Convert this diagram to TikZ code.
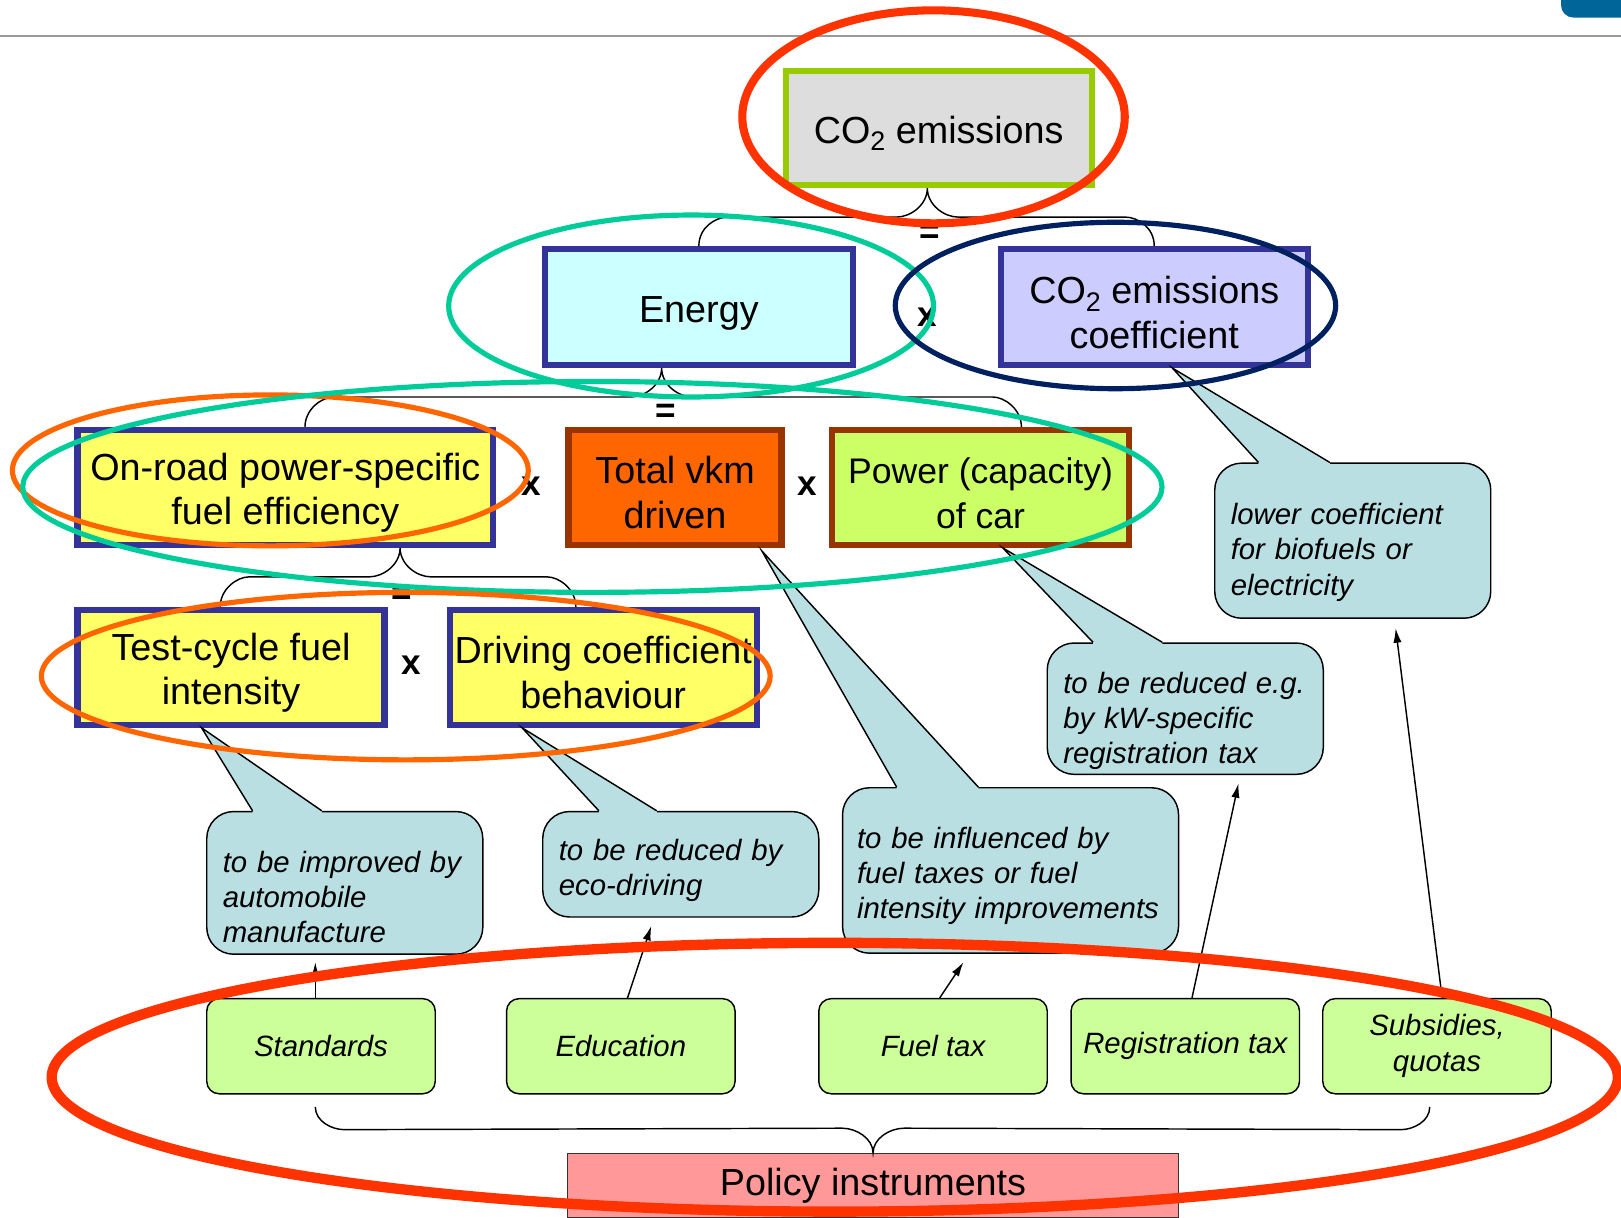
\documentclass[tikz,border=0pt]{standalone}
\usepackage{fontspec}
\setmainfont{Liberation Sans}
\usetikzlibrary{arrows.meta,calc}
\definecolor{coboxgray}{HTML}{DDDDDD}
\definecolor{coboxgreen}{HTML}{99CC00}
\definecolor{boxnavy}{HTML}{333399}
\definecolor{energycyan}{HTML}{CCFFFF}
\definecolor{coeflilac}{HTML}{CCCCFF}
\definecolor{effyellow}{HTML}{FFFF66}
\definecolor{vkmorange}{HTML}{FF6600}
\definecolor{boxbrown}{HTML}{993300}
\definecolor{powerlime}{HTML}{CCFF66}
\definecolor{noteblue}{HTML}{B9DFE3}
\definecolor{instrgreen}{HTML}{CCFF99}
\definecolor{policyrose}{HTML}{FF9999}
\definecolor{ringred}{HTML}{FF3300}
\definecolor{ringteal}{HTML}{00CC99}
\definecolor{ringnavy}{HTML}{002060}
\definecolor{ringorange}{HTML}{FF6600}
\definecolor{cornerblue}{HTML}{00669A}
\newcommand{\cotwo}{CO\raisebox{-0.38ex}{\fontsize{13pt}{13pt}\selectfont 2}}
\newcommand{\boxstrut}{\rule{0pt}{18.3pt}}

\begin{document}
\begin{tikzpicture}[x=0.5pt,y=-0.5pt,
  box/.style={draw=boxnavy,line width=3pt,inner sep=0pt,align=center,font=\fontsize{18.25pt}{21.5pt}\selectfont},
  note/.style={draw=black,line width=0.7pt,fill=noteblue,rounded corners=13pt,inner ysep=0pt,inner xsep=7.75pt,minimum width=133.5pt,text width=118pt,align=left,font=\fontsize{14.2pt}{17pt}\selectfont\itshape},
  instr/.style={draw=black,line width=0.7pt,fill=instrgreen,rounded corners=6pt,inner sep=0pt,minimum width=110.5pt,minimum height=46pt,align=center,font=\fontsize{14.2pt}{17.5pt}\selectfont\itshape},
  op/.style={inner sep=0pt,font=\fontsize{17pt}{17pt}\selectfont\bfseries},
  pointer/.style={line width=0.7pt},
  lever/.style={line width=0.7pt,-{Latex[length=7pt,width=4pt]}},
  brace/.style={line width=0.7pt},
  ring/.style={line width=2.5pt}]
\useasboundingbox (0,0) rectangle (1568,1178);
\fill[white] (0,0) rectangle (1568,1178);
\clip (0,0) rectangle (1568,1178);

\fill[cornerblue,rounded corners=6pt] (1510,-20) rectangle (1600,17);
\draw[line width=1pt,black!40] (0,35) -- (1568,35);

\node[box,draw=coboxgreen,fill=coboxgray,minimum width=148pt,minimum height=55pt] (co2) at (908,124) {\boxstrut\cotwo{} emissions};
\node[box,fill=energycyan,minimum width=149pt,minimum height=56pt] (en) at (676,297) {\boxstrut Energy};
\node[box,fill=coeflilac,minimum width=148.5pt,minimum height=56pt] (cf) at (1116.5,297) {\boxstrut\cotwo{} emissions\\coefficient};
\node[box,fill=effyellow,minimum width=201pt,minimum height=55.5pt] (onr) at (276,471.5) {\boxstrut On-road power-specific\\fuel efficiency};
\node[box,draw=boxbrown,fill=vkmorange,minimum width=103pt,minimum height=55.5pt] (vkm) at (653,471.5) {\boxstrut Total vkm\\driven};
\node[box,draw=boxbrown,fill=powerlime,minimum width=143.5pt,minimum height=55.5pt,font=\fontsize{17.2pt}{21.5pt}\selectfont] (pow) at (948.5,471.5) {\boxstrut Power (capacity)\\of car};
\node[box,fill=effyellow,minimum width=148.5pt,minimum height=55.5pt] (tcf) at (223.5,645.5) {\boxstrut Test-cycle fuel\\intensity};
\node[box,fill=effyellow,minimum width=148.5pt,minimum height=55.5pt] (drv) at (583.5,645.5) {\boxstrut Driving coefficient\\behaviour};

\node[op] (eqa) at (899,227) {=};
\node[op] (xa) at (897,307) {x};
\node[op] (eqb) at (644,400) {=};
\node[op] (xb) at (514,470) {x};
\node[op] (xc) at (781,470) {x};
\node[op] (eqc) at (389,576) {=};
\node[op] (xd) at (398,643) {x};

\draw[brace] (en.north) .. controls +(0,-18) and +(-12,0) .. ++(28,-28) -- ($(co2.south)+(-41,28)$) .. controls +(14,0) and +(0,16) .. ($(co2.south)+(-11,0)$) .. controls +(0,16) and +(-14,0) .. ($(co2.south)+(19,28)$) -- ($(cf.north)+(-28,-28)$) .. controls +(12,0) and +(0,-18) .. (cf.north);
\draw[brace] ($(onr.north)+(19,0)$) .. controls +(0,-17) and +(-12,0) .. ++(28,-29) -- ($(en.south)+(-66,28)$) .. controls +(14,0) and +(0,16) .. ($(en.south)+(-36,0)$) .. controls +(0,16) and +(-14,0) .. ($(en.south)+(-6,28)$) -- ($(pow.north)+(11.5,-29)$) .. controls +(12,0) and +(0,-17) .. ($(pow.north)+(39.5,0)$);
\draw[brace] ($(tcf.north)+(-10.5,0)$) .. controls +(0,-17) and +(-12,0) .. ++(28,-29) -- ($(onr.south)+(81,28)$) .. controls +(14,0) and +(0,16) .. ($(onr.south)+(111,0)$) .. controls +(0,16) and +(-14,0) .. ($(onr.south)+(141,28)$) -- ($(drv.north)+(-54.5,-29)$) .. controls +(12,0) and +(0,-17) .. ($(drv.north)+(-26.5,0)$);

\node[note,minimum height=69pt] (c1) at (333.5,854) {\rule{0pt}{24pt}to be improved by\\automobile\\manufacture};
\node[note,minimum height=51pt] (c2) at (658.5,836) {\rule{0pt}{16.5pt}to be reduced by\\eco-driving};
\node[note,minimum width=162.5pt,minimum height=80pt,text width=148.5pt,inner xsep=7pt] (c3) at (977.5,842) {\rule{0pt}{15.5pt}to be influenced by\\fuel taxes or fuel\\intensity improvements};
\node[note,minimum height=63.5pt] (c4) at (1146.5,685.5) {\rule{0pt}{22pt}to be reduced e.g.\\by kW-specific\\registration tax};
\node[note,minimum height=75pt] (c5) at (1308.5,523) {\rule{0pt}{21.5pt}lower coefficient\\for biofuels or\\electricity};

\coordinate (tipa) at ($(tcf.south)+(-28.5,0)$);
\coordinate (tipb) at ($(drv.south)+(-78.5,0)$);
\coordinate (tipc) at ($(vkm.south)+(84,3)$);
\coordinate (tipd) at ($(pow.south)+(21.5,0)$);
\coordinate (tipe) at ($(cf.south)+(17.5,0)$);
\fill[noteblue] (tipa) -- ($(c1.north west)+(45,0)$) -- ($(c1.north west)+(45,3)$) -- ($(c1.north west)+(112,3)$) -- ($(c1.north west)+(112,0)$) -- cycle;
\draw[pointer] ($(c1.north west)+(45,0)$) -- (tipa) -- ($(c1.north west)+(112,0)$);
\fill[noteblue] (tipb) -- ($(c2.north west)+(55,0)$) -- ($(c2.north west)+(55,3)$) -- ($(c2.north west)+(111,3)$) -- ($(c2.north west)+(111,0)$) -- cycle;
\draw[pointer] ($(c2.north west)+(55,0)$) -- (tipb) -- ($(c2.north west)+(111,0)$);
\fill[noteblue] (tipc) -- ($(c3.north west)+(53,0)$) -- ($(c3.north west)+(53,3)$) -- ($(c3.north west)+(132,3)$) -- ($(c3.north west)+(132,0)$) -- cycle;
\draw[pointer] ($(c3.north west)+(53,0)$) -- (tipc) -- ($(c3.north west)+(132,0)$);
\fill[noteblue] (tipd) -- ($(c4.north west)+(45,0)$) -- ($(c4.north west)+(45,3)$) -- ($(c4.north west)+(112,3)$) -- ($(c4.north west)+(112,0)$) -- cycle;
\draw[pointer] ($(c4.north west)+(45,0)$) -- (tipd) -- ($(c4.north west)+(112,0)$);
\fill[noteblue] (tipe) -- ($(c5.north west)+(43,0)$) -- ($(c5.north west)+(43,3)$) -- ($(c5.north west)+(112,3)$) -- ($(c5.north west)+(112,0)$) -- cycle;
\draw[pointer] ($(c5.north west)+(43,0)$) -- (tipe) -- ($(c5.north west)+(112,0)$);

\node[instr] (std) at (310.5,1012) {Standards};
\node[instr] (edu) at (600.5,1012) {Education};
\node[instr] (fuel) at (902.5,1012) {Fuel tax};
\node[instr] (reg) at (1146.5,1012) {Registration tax};
\node[instr] (sub) at (1390,1012) {Subsidies,\\quotas};
\node[draw=black!80,line width=0.7pt,fill=policyrose,inner sep=0pt,minimum width=295.5pt,minimum height=31pt,font=\fontsize{18.25pt}{21.5pt}\selectfont] (pol) at (844.5,1147) {Policy instruments};

\draw[lever] ($(std.north)+(-5.5,0)$) -- ($(c1.south)+(-28.5,7)$);
\draw[lever] ($(edu.north)+(6.5,0)$) -- ($(c2.south)+(-28.5,8)$);
\draw[lever] ($(fuel.north)+(6.5,0)$) -- ($(c3.south)+(-45.5,8)$);
\draw[lever] ($(reg.north)+(6.5,0)$) -- ($(c4.south)+(51.5,8)$);
\draw[lever] ($(sub.north)+(5,0)$) -- ($(c5.south)+(41.5,9)$);

\draw[brace] ($(std.south)+(-5.5,12)$) .. controls +(0,14) and +(-12,0) .. ++(28,22) -- ($(pol.north)+(-30,-24)$) .. controls +(14,0) and +(0,-14) .. (pol.north) .. controls +(0,-14) and +(-14,0) .. ($(pol.north)+(30,-24)$) -- ($(sub.south)+(-35,34)$) .. controls +(12,0) and +(0,14) .. ($(sub.south)+(-7,12)$);

\draw[ring,ringred,line width=3.9pt] (903,113) ellipse [x radius=185,y radius=103];
\draw[ring,ringteal] (668.5,296) ellipse [x radius=234.5,y radius=88];
\draw[ring,ringnavy] (1079,295.5) ellipse [x radius=213,y radius=80.5];
\draw[ring,ringorange] (261.5,455) ellipse [x radius=249.5,y radius=73];
\draw[ring,ringteal] (573,471) ellipse [x radius=551,y radius=102];
\draw[ring,ringorange] (392.5,654) ellipse [x radius=352.5,y radius=81];
\draw[ring,ringred,line width=5pt] (807.5,1042) ellipse [x radius=757.5,y radius=130];
\end{tikzpicture}
\end{document}
